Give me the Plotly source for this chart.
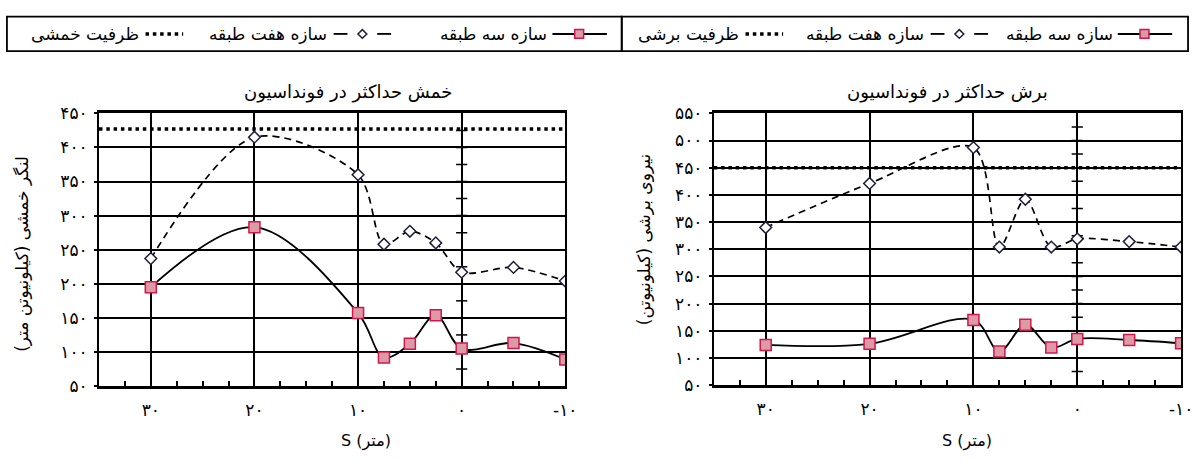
import numpy as np
import plotly.graph_objects as go

# ---------------- data ----------------
S = [30, 20, 10, 7.5, 5, 2.5, 0, -5, -10]

moment_3 = [195, 283, 157, 92, 112, 154, 105, 113, 89]
moment_7 = [237, 415, 360, 258, 277, 260, 217, 224, 204]
moment_capacity = 427

shear_3 = [124, 126, 170, 112, 161, 119, 135, 133, 127]
shear_7 = [340, 421, 487, 304, 392, 304, 319, 314, 304]
shear_capacity = 450

x_tickvals = [30, 20, 10, 0, -10]
x_ticktext = ["۳۰", "۲۰", "۱۰", "۰", "-۱۰"]

m_tickvals = [50, 100, 150, 200, 250, 300, 350, 400, 450]
m_ticktext = ["۵۰", "۱۰۰", "۱۵۰", "۲۰۰", "۲۵۰", "۳۰۰", "۳۵۰", "۴۰۰", "۴۵۰"]

v_tickvals = [50, 100, 150, 200, 250, 300, 350, 400, 450, 500, 550]
v_ticktext = ["۵۰", "۱۰۰", "۱۵۰", "۲۰۰", "۲۵۰", "۳۰۰", "۳۵۰", "۴۰۰", "۴۵۰", "۵۰۰", "۵۵۰"]

name_3 = "سازه سه طبقه"
name_7 = "سازه هفت طبقه"
name_mcap = "ظرفیت خمشی"
name_vcap = "ظرفیت برشی"
title_m = "خمش حداکثر در فونداسیون"
title_v = "برش حداکثر در فونداسیون"
ytitle_m = "لنگر خمشی (کیلونیوتن متر)"
ytitle_v = "نیروی برشی (کیلونیوتن)"
xtitle = "S (متر)"

# ---------------- layout helpers ----------------
W, H = 1203, 464
FONT = "DejaVu Sans"
X_RANGE = [35, -10]


def px(x):
    return x / W


def py(y):
    return 1 - y / H


SQ_FILL = "#dc9aa6"
SQ_LINE = "#d0174c"
DIA_LINE = "#1e1e3c"
CAP_DASH = "3.5px,3.8px"

fig = go.Figure()


def add_panel(xa, ya, v3, v7, cap, y_range):
    xref = "x" if xa == 1 else f"x{xa}"
    yref = "y" if ya == 1 else f"y{ya}"
    fig.add_trace(go.Scatter(x=X_RANGE, y=[cap, cap], mode="lines",
                             line=dict(color="black", width=3.5, dash=CAP_DASH),
                             xaxis=xref, yaxis=yref, hoverinfo="skip"))
    tk = np.arange(y_range[0] + 25, y_range[1], 25)
    fig.add_trace(go.Scatter(x=np.zeros(len(tk)), y=tk, mode="markers",
                             marker=dict(symbol="line-ew", size=8,
                                         line=dict(color="black", width=1.5)),
                             xaxis=xref, yaxis=yref, hoverinfo="skip"))
    fig.add_trace(go.Scatter(x=S, y=v7, mode="lines+markers",
                             line=dict(color="black", width=1.7, dash="7px,5px",
                                       shape="spline", smoothing=0.9),
                             marker=dict(symbol="diamond", size=9, color="white",
                                         line=dict(color=DIA_LINE, width=1.5)),
                             xaxis=xref, yaxis=yref))
    fig.add_trace(go.Scatter(x=S, y=v3, mode="lines+markers",
                             line=dict(color="black", width=1.8,
                                       shape="spline", smoothing=1),
                             marker=dict(symbol="square", size=11, color=SQ_FILL,
                                         line=dict(color=SQ_LINE, width=1.5)),
                             xaxis=xref, yaxis=yref))


add_panel(1, 1, moment_3, moment_7, moment_capacity, [50, 450])
add_panel(2, 2, shear_3, shear_7, shear_capacity, [50, 550])


def xaxis_cfg(d0, d1, anchor):
    return dict(domain=[px(d0), px(d1)], range=X_RANGE, anchor=anchor,
                tickvals=x_tickvals, ticktext=x_ticktext,
                showgrid=True, gridcolor="black", gridwidth=1.8,
                zeroline=True, zerolinecolor="black", zerolinewidth=2.2,
                showline=True, linecolor="black", linewidth=2.5, mirror=True,
                ticks="inside", ticklen=5, tickwidth=1.5, tickcolor="black",
                minor=dict(dtick=2.5, tick0=0, ticks="inside", ticklen=5,
                           tickwidth=1.5, tickcolor="black", showgrid=False),
                ticklabelstandoff=7,
                tickfont=dict(family=FONT, size=17, color="black"))


def yaxis_cfg(t0, t1, rng, tv, tt, anchor):
    return dict(domain=[py(t1), py(t0)], range=rng, anchor=anchor,
                tickvals=tv, ticktext=tt,
                showgrid=True, gridcolor="black", gridwidth=1.8,
                zeroline=False,
                showline=True, linecolor="black", linewidth=1.8, mirror=True,
                ticks="outside", ticklen=3, tickwidth=1.5, tickcolor="black",
                ticklabelstandoff=3,
                tickfont=dict(family=FONT, size=17, color="black"))


annotations = []


def text(x, y, s, size=14, xanchor="center", angle=0):
    annotations.append(dict(x=px(x), y=py(y), xref="paper", yref="paper",
                            text=s, showarrow=False, xanchor=xanchor,
                            yanchor="middle", textangle=angle,
                            font=dict(family=FONT, size=size, color="black")))


text(352, 86, title_m, size=18)
text(957, 86, title_v, size=18)
text(22, 255, ytitle_m, size=17, angle=-90)
text(650, 240, ytitle_v, size=17, angle=-90)
text(370, 450, xtitle, size=16)
text(977, 450, xtitle, size=16)

shapes = []
LY = 25


def box(x0, x1):
    shapes.append(dict(type="rect", xref="paper", yref="paper",
                       x0=px(x0), x1=px(x1), y0=py(43), y1=py(7),
                       line=dict(color="black", width=1.8)))


def seg(x0, x1, dash="solid", width=1.8):
    shapes.append(dict(type="line", xref="paper", yref="paper",
                       x0=px(x0), x1=px(x1), y0=py(LY), y1=py(LY),
                       line=dict(color="black", width=width, dash=dash)))


def square(cx):
    shapes.append(dict(type="rect", xref="paper", yref="paper",
                       x0=px(cx - 4.5), x1=px(cx + 4.5), y0=py(LY + 4.5), y1=py(LY - 4.5),
                       fillcolor=SQ_FILL, line=dict(color=SQ_LINE, width=1.5)))


def diamond(cx):
    r = 4.5
    path = (f"M {px(cx - r)} {py(LY)} L {px(cx)} {py(LY - r)} "
            f"L {px(cx + r)} {py(LY)} L {px(cx)} {py(LY + r)} Z")
    shapes.append(dict(type="path", xref="paper", yref="paper", path=path,
                       fillcolor="white", line=dict(color=DIA_LINE, width=1.5)))


def legend_row(x_box0, x_box1, cap_name, cap_right, sev_right, thr_right):
    box(x_box0, x_box1)
    text(cap_right, LY, cap_name, size=17, xanchor="right")
    seg(cap_right + 5, cap_right + 43, dash=CAP_DASH, width=3.5)
    text(sev_right, LY, name_7, size=17, xanchor="right")
    seg(sev_right + 5, sev_right + 19)
    seg(sev_right + 49, sev_right + 63)
    diamond(sev_right + 34)
    text(thr_right, LY, name_3, size=17, xanchor="right")
    seg(thr_right + 3, thr_right + 58, width=2)
    square(thr_right + 30)


legend_row(7, 628, name_mcap, 142, 332, 555)
legend_row(628, 1200, name_vcap, 748, 935, 1126)

fig.update_layout(
    width=W, height=H,
    margin=dict(l=0, r=0, t=0, b=0),
    paper_bgcolor="white", plot_bgcolor="white",
    showlegend=False,
    xaxis=xaxis_cfg(100, 571, "y"),
    yaxis=yaxis_cfg(108, 393, [50, 450], m_tickvals, m_ticktext, "x"),
    xaxis2=xaxis_cfg(721, 1193, "y2"),
    yaxis2=yaxis_cfg(108, 392, [50, 550], v_tickvals, v_ticktext, "x2"),
    annotations=annotations,
    shapes=shapes,
    font=dict(family=FONT, color="black"),
)

fig.write_html(
    "out.html",
    config={"displayModeBar": False},
    post_script=(
        "document.documentElement.style.margin='0';"
        "document.body.style.margin='0';document.body.style.padding='0';"
        "document.documentElement.style.overflow='hidden';"
        "document.body.style.overflow='hidden';"
        "var d=document.getElementById('{plot_id}');"
        "d.style.position='fixed';d.style.top='0px';d.style.left='0px';"
    ),
)
